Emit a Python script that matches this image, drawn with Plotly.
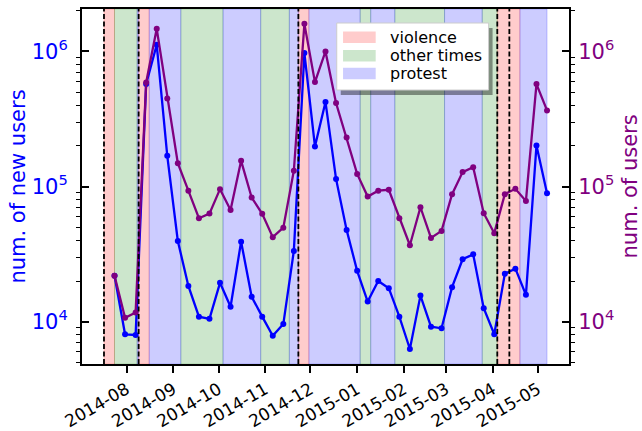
import plotly.graph_objects as go
import pandas as pd

# ---------------- data ----------------
dates = pd.date_range("2014-07-24", periods=42, freq="7D")

new_users = [21900, 8070, 7970, 575000, 1120000, 169000, 39600, 18400, 10900, 10500,
             19400, 12900, 39100, 15300, 10900, 7870, 9600, 33400, 972000, 198000,
             422000, 114000, 47800, 23800, 14100, 20000, 17700, 10900, 6280, 15600,
             9180, 8940, 18000, 29000, 31500, 12600, 8070, 22600, 24700, 15800,
             201000, 89300]

users = [21900, 10700, 11700, 590000, 1470000, 449000, 149000, 93300, 58300, 63100,
         95700, 67100, 155000, 83000, 62800, 42200, 49600, 131000, 1600000, 593000,
         1000000, 415000, 231000, 124000, 84300, 93300, 94700, 58300, 36800, 70300,
         41700, 47000, 87900, 128000, 139000, 63500, 45200, 87900, 96200, 78300,
         573000, 366000]

violence_spans = [("2014-07-17", "2014-07-24"), ("2014-08-09", "2014-08-16"),
                  ("2014-11-23", "2014-11-30"), ("2015-04-04", "2015-04-19")]
other_spans = [("2014-07-24", "2014-08-08"), ("2014-09-06", "2014-10-04"),
               ("2014-10-29", "2014-11-17"), ("2015-01-03", "2015-01-10"),
               ("2015-01-26", "2015-02-28"), ("2015-03-25", "2015-04-04")]
protest_spans = [("2014-08-08", "2014-08-09"), ("2014-08-16", "2014-09-06"),
                 ("2014-10-04", "2014-10-29"), ("2014-11-17", "2014-11-23"),
                 ("2014-11-30", "2015-01-03"), ("2015-01-10", "2015-01-26"),
                 ("2015-02-28", "2015-03-25"), ("2015-04-19", "2015-05-07")]
event_lines = ["2014-07-17", "2014-08-09", "2014-11-23", "2015-04-04", "2015-04-12"]

legend_labels = ["violence", "other times", "protest"]

y_ticks = [1e4, 1e5, 1e6]
y_ticktext = ["10<sup>4</sup>", "10<sup>5</sup>", "10<sup>6</sup>"]
y_minor = [m * 10 ** e for e in (3, 4, 5) for m in range(2, 10)] + [2e6]

# ---------------- layout constants ----------------
W, H = 642, 431
L, R, T, B = 82, 72.5, 9, 67
PW, PH = W - L - R, H - T - B
FONT = "DejaVu Sans"
BLUE = "#0000ff"
PURPLE = "#800080"
span_styles = {
    "violence": ("rgba(255,0,0,0.2)", "rgba(255,0,0,0.25)"),
    "other times": ("rgba(0,128,0,0.2)", "rgba(0,128,0,0.25)"),
    "protest": ("rgba(0,0,255,0.2)", "rgba(0,0,255,0.25)"),
}


def px_x(p):
    return (p - L) / PW


def px_y(p):
    return (H - B - p) / PH


shapes = []
for name, spans in (("violence", violence_spans), ("other times", other_spans),
                    ("protest", protest_spans)):
    fill, edge = span_styles[name]
    for s, e in spans:
        shapes.append(dict(type="rect", xref="x", yref="paper", x0=s, x1=e, y0=0, y1=1,
                           fillcolor=fill, line=dict(color=edge, width=0.8), layer="below"))
for d in event_lines:
    shapes.append(dict(type="line", xref="x", yref="paper", x0=d, x1=d, y0=0, y1=1,
                       line=dict(color="black", width=1.8, dash="5px,2.5px"), layer="above"))

# ---- hand-drawn legend (box, shadow, swatches, labels) ----
LEG = dict(x0=337, x1=489, y0=23, y1=90)
shapes.append(dict(type="rect", xref="paper", yref="paper",
                   x0=px_x(LEG["x0"] + 4), x1=px_x(LEG["x1"] + 4),
                   y0=px_y(LEG["y1"] + 5), y1=px_y(LEG["y0"] + 5),
                   fillcolor="rgba(0,0,0,0.4)", line=dict(width=0), layer="above"))
shapes.append(dict(type="rect", xref="paper", yref="paper",
                   x0=px_x(LEG["x0"]), x1=px_x(LEG["x1"]),
                   y0=px_y(LEG["y1"]), y1=px_y(LEG["y0"]),
                   fillcolor="white", line=dict(color="#cccccc", width=1), layer="above"))
annotations = []
row_centers = [37.2, 55.8, 73.5]
for lab, yc in zip(legend_labels, row_centers):
    shapes.append(dict(type="rect", xref="paper", yref="paper",
                       x0=px_x(343.3), x1=px_x(376), y0=px_y(yc + 5.7), y1=px_y(yc - 5.7),
                       fillcolor=span_styles[lab][0], line=dict(width=0), layer="above"))
    annotations.append(dict(text=lab, xref="paper", yref="paper", x=px_x(388.5), y=px_y(yc),
                            xanchor="left", yanchor="middle", showarrow=False,
                            font=dict(family=FONT, size=16, color="black")))

# axis titles
annotations.append(dict(text="num. of new users", xref="paper", yref="paper",
                        x=(17 - L) / PW, y=0.5, xanchor="center", yanchor="middle",
                        textangle=-90, showarrow=False,
                        font=dict(family=FONT, size=21, color=BLUE)))
annotations.append(dict(text="num. of users", xref="paper", yref="paper",
                        x=(630.5 - L) / PW, y=0.5, xanchor="center", yanchor="middle",
                        textangle=-90, showarrow=False,
                        font=dict(family=FONT, size=21, color=PURPLE)))

fig = go.Figure()
fig.add_trace(go.Scatter(x=dates, y=new_users, mode="lines+markers", showlegend=False,
                         line=dict(color=BLUE, width=2.3), marker=dict(color=BLUE, size=6),
                         yaxis="y"))
fig.add_trace(go.Scatter(x=dates, y=users, mode="lines+markers", showlegend=False,
                         line=dict(color=PURPLE, width=2.3), marker=dict(color=PURPLE, size=6),
                         yaxis="y2"))

yrange = [3.687, 6.314]
common_y = dict(type="log", range=yrange, tickmode="array", tickvals=y_ticks,
                ticktext=y_ticktext, ticks="inside", ticklen=7, tickwidth=1.5,
                tickcolor="black", showline=True, linecolor="black", linewidth=2,
                showgrid=False, zeroline=False, automargin=False,
                minor=dict(tickmode="array", tickvals=y_minor, ticks="outside",
                           ticklen=4, tickwidth=1.2, tickcolor="black", showgrid=False))

fig.update_layout(
    width=W, height=H,
    margin=dict(l=L, r=R, t=T, b=B, pad=0, autoexpand=False),
    paper_bgcolor="white", plot_bgcolor="white",
    font=dict(family=FONT, color="black"),
    shapes=shapes,
    annotations=annotations,
    showlegend=False,
    xaxis=dict(type="date", range=["2014-07-02 10:00", "2015-05-21 14:00"],
               tickformat="%Y-%m", dtick="M1", tick0="2014-08-01", tickangle=-30,
               ticks="outside", ticklen=7, tickwidth=1.5, tickcolor="black",
               showline=True, linecolor="black", linewidth=2, mirror=True,
               showgrid=False, zeroline=False, automargin=False,
               tickfont=dict(family=FONT, size=17, color="black")),
    yaxis=dict(**common_y, side="left", ticklabelstandoff=8,
               tickfont=dict(family=FONT, size=21, color=BLUE)),
    yaxis2=dict(**common_y, side="right", overlaying="y", ticklabelstandoff=3,
                tickfont=dict(family=FONT, size=21, color=PURPLE)),
)

fig.write_html("out.html",
               config={"displayModeBar": False},
               post_script="document.body.style.margin='0px';"
                           "document.body.style.padding='0px';"
                           "document.body.style.overflow='hidden';")
